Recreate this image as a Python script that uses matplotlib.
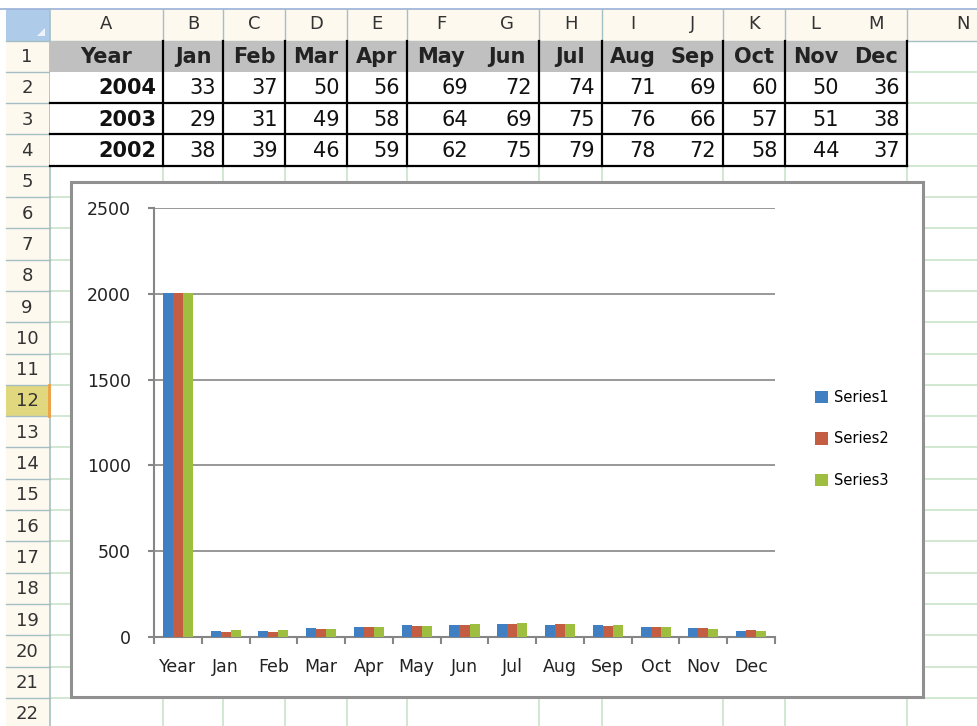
import matplotlib
matplotlib.use("Agg")
import matplotlib.pyplot as plt
import numpy as np
from matplotlib.patches import Rectangle, Polygon

# sheet data
months = ["Jan", "Feb", "Mar", "Apr", "May", "Jun", "Jul", "Aug", "Sep", "Oct", "Nov", "Dec"]
years = [2004, 2003, 2002]
values_2004 = [33, 37, 50, 56, 69, 72, 74, 71, 69, 60, 50, 36]
values_2003 = [29, 31, 49, 58, 64, 69, 75, 76, 66, 57, 51, 38]
values_2002 = [38, 39, 46, 59, 62, 75, 79, 78, 72, 58, 44, 37]
series_names = ["Series1", "Series2", "Series3"]
col_letters = list("ABCDEFGHIJKLMN")

categories = ["Year"] + months
rows = [values_2004, values_2003, values_2002]
series = [[y] + r for y, r in zip(years, rows)]
colors = ["#3F7FC2", "#C35E42", "#9DBE3F"]

# sheet geometry in pixels
col_edges = [50, 163, 223, 285, 347, 407, 475, 539, 602, 663, 723, 785, 846, 907, 1020]
grid_cols = [163, 223, 285, 347, 407, 539, 602, 723, 785, 907]
row_top = 40.5
row_h = 31.3
n_rows = 22
edges = [row_top + row_h * k for k in range(n_rows + 1)]

grid_c = "#C6E2C6"
head_line = "#A4BFC4"
head_bg = "#FDF9EF"

fig = plt.figure(figsize=(9.78, 7.26), dpi=100)
bg = fig.add_axes([0, 0, 1, 1])
bg.set_xlim(0, 978)
bg.set_ylim(726, 0)
bg.axis("off")

# headers
bg.add_patch(Rectangle((6, 9), 972, 31.5, fc=head_bg, ec="none", zorder=0.5))
bg.add_patch(Rectangle((6, row_top), 44, 726, fc=head_bg, ec="none", zorder=0.5))
bg.add_patch(Rectangle((6, edges[11]), 44, row_h, fc="#E0D77E", ec="none", zorder=0.6))
bg.plot([49, 49], [edges[11], edges[12]], color="#F0A040", lw=2, zorder=1.5)
bg.add_patch(Rectangle((6, 9), 44, 31.5, fc="#AECBEA", ec="none", zorder=0.6))
bg.add_patch(Polygon([(45, 36), (45, 28), (37, 36)], fc="#EEF3FA", ec="none", zorder=0.7))
bg.plot([0, 978], [8.5, 8.5], color="#9AB0D8", lw=1.2, zorder=1)

# gridlines
for y in edges[1:]:
    bg.plot([50, 978], [y, y], color=grid_c, lw=1.1, zorder=1)
    bg.plot([6, 50], [y, y], color=head_line, lw=1, zorder=1)
for x in grid_cols:
    bg.plot([x, x], [row_top, 726], color=grid_c, lw=1.1, zorder=1)
    bg.plot([x, x], [9, row_top], color=head_line, lw=1, zorder=1)
bg.plot([50, 50], [9, 726], color=head_line, lw=1.2, zorder=1)
bg.plot([6, 978], [row_top, row_top], color=head_line, lw=1, zorder=1)

# column letters and row numbers
for i, c in enumerate(col_letters):
    bg.text((col_edges[i] + col_edges[i + 1]) / 2, 24, c, ha="center", va="center",
            fontsize=13, color="#333333", zorder=4)
for k in range(n_rows):
    bg.text(27, (edges[k] + edges[k + 1]) / 2 + 1, str(k + 1), ha="center", va="center",
            fontsize=13, color="#333333", zorder=4)

# data table
bg.add_patch(Rectangle((50, edges[1]), 857, edges[4] - edges[1], fc="white", ec="none", zorder=2))
bg.add_patch(Rectangle((50, edges[0]), 857, row_h, fc="#C0C0C0", ec="none", zorder=2))
for y in edges[2:5]:
    bg.plot([50, 907], [y, y], color="black", lw=1.6, zorder=3)
for x in grid_cols:
    bg.plot([x, x], [edges[0], edges[4]], color="black", lw=1.6, zorder=3)

bg.text((col_edges[0] + col_edges[1]) / 2, (edges[0] + edges[1]) / 2 + 1, "Year",
        ha="center", va="center", fontsize=15, fontweight="bold", color="#222222", zorder=4)
for j, m in enumerate(months):
    bg.text((col_edges[j + 1] + col_edges[j + 2]) / 2, (edges[0] + edges[1]) / 2 + 1, m,
            ha="center", va="center", fontsize=15, fontweight="bold", color="#222222", zorder=4)
for r, (yr, vals) in enumerate(zip(years, rows)):
    yc = (edges[r + 1] + edges[r + 2]) / 2 + 1
    bg.text(col_edges[1] - 7, yc, str(yr), ha="right", va="center", fontsize=15,
            fontweight="bold", color="#111111", zorder=4)
    for j, v in enumerate(vals):
        bg.text(col_edges[j + 2] - 7, yc, str(v), ha="right", va="center", fontsize=15,
                color="#111111", zorder=4)

# chart box
bg.add_patch(Rectangle((71, 182), 852, 515, fc="white", ec="#909090", lw=2.2, zorder=5))

# chart
ax = fig.add_axes([154 / 978, 1 - 637 / 726, 621 / 978, 429 / 726])
ax.patch.set_alpha(0)
x = np.arange(len(categories))
w = 0.21
for i, name in enumerate(series_names):
    ax.bar(x + (i - 1) * w, series[i], width=w, color=colors[i], label=name, zorder=3)

ax.set_xlim(-0.5, len(categories) - 0.5)
ax.set_ylim(0, 2500)
ax.set_yticks(np.arange(0, 2501, 500))
ax.yaxis.grid(True, color="#868686", lw=1.2)
ax.set_axisbelow(True)
for s in ["top", "right"]:
    ax.spines[s].set_visible(False)
for s in ["left", "bottom"]:
    ax.spines[s].set_color("#868686")
    ax.spines[s].set_linewidth(1.5)

ax.set_xticks(x)
ax.set_xticklabels(categories)
ax.set_xticks(np.arange(-0.5, len(categories)), minor=True)
ax.tick_params(axis="x", which="major", length=0, pad=15, labelsize=12.5, labelcolor="#222222")
ax.tick_params(axis="x", which="minor", length=5, width=1.5, color="#868686")
ax.tick_params(axis="y", length=4.5, width=1.5, color="#868686", pad=12, labelsize=12.5,
               labelcolor="#222222")

ax.legend(loc="center left", bbox_to_anchor=(808 / 978, 1 - 439 / 726),
          bbox_transform=fig.transFigure, frameon=False, fontsize=10.5,
          handlelength=0.9, handleheight=0.9, handletextpad=0.4,
          labelspacing=1.8, borderpad=0)

fig.savefig("out.png", dpi=100)
